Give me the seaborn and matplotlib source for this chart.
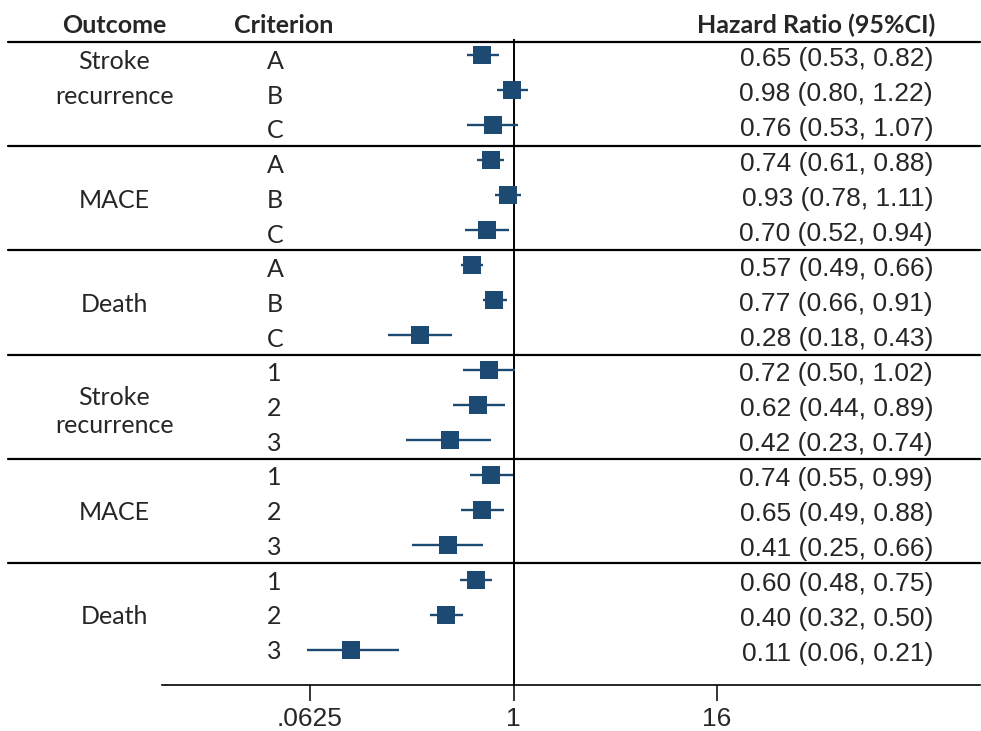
import numpy as np
import pandas as pd
import matplotlib
matplotlib.use("Agg")
import matplotlib.pyplot as plt
import seaborn as sns
from matplotlib.ticker import NullLocator
from matplotlib.transforms import blended_transform_factory

# data
outcomes = ["Stroke recurrence", "MACE", "Death", "Stroke recurrence", "MACE", "Death"]
criteria = ["A", "B", "C", "A", "B", "C", "A", "B", "C",
            "1", "2", "3", "1", "2", "3", "1", "2", "3"]
hr = [0.65, 0.98, 0.76, 0.74, 0.93, 0.70, 0.57, 0.77, 0.28,
      0.72, 0.62, 0.42, 0.74, 0.65, 0.41, 0.60, 0.40, 0.11]
lo = [0.53, 0.80, 0.53, 0.61, 0.78, 0.52, 0.49, 0.66, 0.18,
      0.50, 0.44, 0.23, 0.55, 0.49, 0.25, 0.48, 0.32, 0.06]
hi = [0.82, 1.22, 1.07, 0.88, 1.11, 0.94, 0.66, 0.91, 0.43,
      1.02, 0.89, 0.74, 0.99, 0.88, 0.66, 0.75, 0.50, 0.21]
xticks = [0.0625, 1, 16]
xticklabels = [".0625", "1", "16"]

BLUE = "#1c4a73"
W, H = 981, 731

sns.set_style("white")
plt.rcParams["font.family"] = ["Liberation Sans", "DejaVu Sans"]

df = pd.DataFrame({"row": np.arange(len(hr)), "hr": hr, "lo": lo, "hi": hi})

fig = plt.figure(figsize=(W / 100, H / 100), dpi=100)
ax = fig.add_axes([162 / W, (H - 685) / H, (980 - 162) / W, 685 / H])

# pixel helpers (layout only)
ROW0, ROWH = 55, 35
X_ONE, PX_LOG2 = 513.5, 50.9


def py(px):
    return (px - ROW0) / ROWH


ax.set_xscale("log", base=2)
ax.hlines(df["row"], df["lo"], df["hi"], color=BLUE, lw=1.7, zorder=2)
sns.scatterplot(data=df, x="hr", y="row", marker="s", s=180, color=BLUE,
                linewidth=0, ax=ax, zorder=3, legend=False)
ax.vlines(1, py(39), py(685), color="black", lw=1.4, zorder=1)

ax.set_xlim(2 ** ((162 - X_ONE) / PX_LOG2), 2 ** ((980 - X_ONE) / PX_LOG2))
ax.set_ylim(py(685), py(0))
ax.set_xticks(xticks)
ax.set_xticklabels(xticklabels, fontsize=19)
ax.xaxis.set_minor_locator(NullLocator())
ax.tick_params(axis="x", length=11.5, width=1.1, pad=4, direction="out",
               bottom=True, color="black")
ax.set_yticks([])
ax.set_xlabel("")
ax.set_ylabel("")
for s in ["top", "left", "right"]:
    ax.spines[s].set_visible(False)
ax.spines["bottom"].set_linewidth(1.2)
ax.spines["bottom"].set_color("black")

tr = blended_transform_factory(fig.transFigure, ax.transData)
CAL = ["Lato", "DejaVu Sans"]
FS = 18

# separators
for k in range(6):
    y = py(42 + 104.2 * k)
    ax.plot([8 / W, 980 / W], [y, y], transform=tr, clip_on=False,
            color="black", lw=1.6)

# headers
hb = py(33)
ax.text(114.5 / W, hb, "Outcome", transform=tr, ha="center", va="baseline",
        fontsize=FS, fontweight="bold", family=CAL)
ax.text(284 / W, hb, "Criterion", transform=tr, ha="center", va="baseline",
        fontsize=FS, fontweight="bold", family=CAL)
ax.text(935 / W, hb, "Hazard Ratio (95%CI)", transform=tr, ha="right",
        va="baseline", fontsize=FS, fontweight="bold", family=CAL)


def crit_base(i):
    return py(69 + 34.7 * i)


for i, c in enumerate(criteria):
    ax.text(267 / W, crit_base(i), c, transform=tr, ha="left", va="baseline",
            fontsize=FS, family=CAL)
    ax.text(933 / W, py(66 + 35 * i), f"{hr[i]:.2f} ({lo[i]:.2f}, {hi[i]:.2f})",
            transform=tr, ha="right", va="baseline", fontsize=19)

for g, name in enumerate(outcomes):
    mid = 3 * g + 1
    words = name.split(" ")
    if len(words) == 1:
        ax.text(114.5 / W, crit_base(mid), name, transform=tr, ha="center",
                va="baseline", fontsize=FS, family=CAL)
    elif g == 0:
        for j, w in enumerate(words):
            ax.text(114.5 / W, crit_base(3 * g + j), w, transform=tr,
                    ha="center", va="baseline", fontsize=FS, family=CAL)
    else:
        base_px = 69 + 34.7 * mid
        for j, w in enumerate(words):
            ax.text(114.5 / W, py(base_px - 11 + 28 * j), w, transform=tr,
                    ha="center", va="baseline", fontsize=FS, family=CAL)

fig.savefig("out.png", dpi=100)
